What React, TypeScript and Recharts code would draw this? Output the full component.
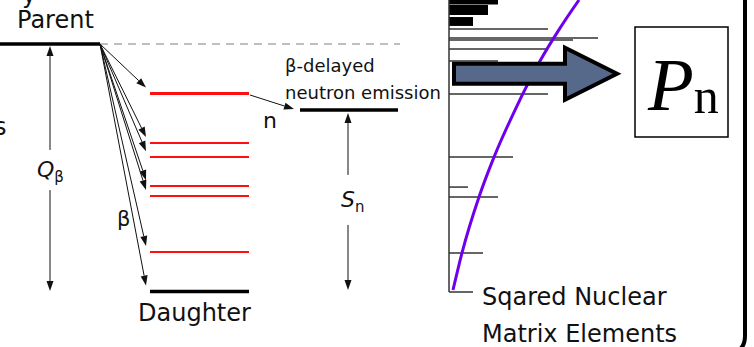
import React from "react";
import {
  ComposedChart,
  Line,
  ReferenceArea,
  ReferenceDot,
  ReferenceLine,
  XAxis,
  YAxis,
} from "recharts";

// energies in MeV above the daughter ground state
const parentLevel = 10;
const daughterStates = [8.0, 6.0, 5.43, 4.26, 3.86, 1.6];
const betaFeeds = [8.0, 6.0, 5.43, 4.26, 3.86, 1.6, 0];
const neutronLevel = 7.33; // Sn, final nucleus after neutron emission

// squared nuclear matrix elements (right panel)
const bandLow = [11.6, 11.17, 10.73];
const bandHigh = [11.778, 11.58, 11.09];
const bandStrength = [4.9, 3.9, 2.4];
const lineEnergy = [10.61, 10.24, 10.16, 9.8, 9.31, 7.98, 5.43, 4.22, 3.82, 1.56];
const lineStrength = [9.9, 14.9, 12.4, 9.9, 4.9, 9.9, 6.4, 1.9, 4.9, 3.4];

// purple curve
const curveStrength = [0.4, 1.3, 3.0, 4.5, 6.6, 9.1, 11.05, 13.0];
const curveEnergy = [0.06, 1.56, 3.82, 5.43, 7.33, 9.31, 10.61, 11.778];

const curveData = curveStrength.map((s, i) => ({ s, e: curveEnergy[i] }));

const W = 754;
const H = 347;
const SANS = "DejaVu Sans";
const SERIF = "Liberation Serif";

const head = (xf: number, yf: number, xt: number, yt: number, len = 10, half = 3.5) => {
  const d = Math.hypot(xt - xf, yt - yf);
  const ux = (xt - xf) / d;
  const uy = (yt - yf) / d;
  const bx = xt - ux * len;
  const by = yt - uy * len;
  return {
    base: [bx, by],
    pts: `${xt},${yt} ${bx - uy * half},${by + ux * half} ${bx + uy * half},${by - ux * half}`,
  };
};

// line with a filled head at its second point
const arrowShape = (color = "#111", width = 1.2) => (p: any) => {
  const { x1, y1, x2, y2 } = p;
  const h = head(x1, y1, x2, y2);
  return (
    <g>
      <line x1={x1} y1={y1} x2={h.base[0]} y2={h.base[1]} stroke={color} strokeWidth={width} />
      <polygon points={h.pts} fill={color} />
    </g>
  );
};

const label = (key: string, x: number, e: number, content: React.ReactNode, style: any = {}) => (
  <ReferenceDot
    key={key}
    xAxisId="lay"
    x={x}
    y={e}
    ifOverflow="visible"
    zIndex={1100}
    shape={(p: any) => (
      <text x={p.cx} y={p.cy} fontFamily={SANS} fontSize={24} fill="#111" {...style}>
        {content}
      </text>
    )}
  />
);

export default function App() {
  return (
    <div style={{ position: "fixed", left: 0, top: 0, width: W, height: H, background: "#fff" }}>
      <ComposedChart width={W} height={H} margin={{ top: 0, right: 0, bottom: 0, left: 0 }}>
        <XAxis xAxisId="lay" type="number" dataKey="x" domain={[0, W]} allowDataOverflow hide />
        <XAxis xAxisId="me" type="number" dataKey="s" domain={[-44.9, 30.5]} allowDataOverflow hide />
        <YAxis type="number" domain={[-2.242, 11.778]} allowDataOverflow hide />

        {/* Q-value reference (dashed) */}
        <ReferenceLine
          xAxisId="lay"
          segment={[{ x: 100, y: parentLevel }, { x: 400, y: parentLevel }]}
          stroke="#aaa"
          strokeWidth={1.5}
          strokeDasharray="8 6"
        />

        {/* parent */}
        <ReferenceLine
          xAxisId="lay"
          segment={[{ x: 0, y: parentLevel }, { x: 100, y: parentLevel }]}
          stroke="#000"
          strokeWidth={3.5}
        />

        {/* daughter excited states */}
        {daughterStates.map((e, i) => (
          <ReferenceLine
            key={`d${i}`}
            xAxisId="lay"
            segment={[{ x: 150, y: e }, { x: 249, y: e }]}
            stroke="#ff1010"
            strokeWidth={i === 0 ? 3 : 2}
          />
        ))}
        <ReferenceLine
          xAxisId="lay"
          segment={[{ x: 150, y: 0 }, { x: 249, y: 0 }]}
          stroke="#000"
          strokeWidth={3.5}
        />

        {/* beta feeding */}
        {betaFeeds.map((e, i) => (
          <ReferenceLine
            key={`b${i}`}
            xAxisId="lay"
            segment={[{ x: 100, y: parentLevel }, { x: 146, y: e + 0.24 }]}
            shape={arrowShape("#111", 1)}
          />
        ))}

        {/* Q beta arrow */}
        <ReferenceLine
          xAxisId="lay"
          segment={[{ x: 50, y: 5.72 }, { x: 50, y: parentLevel - 0.08 }]}
          shape={arrowShape("#111", 1)}
        />
        <ReferenceLine
          xAxisId="lay"
          segment={[{ x: 50, y: 4.1 }, { x: 50, y: 0.02 }]}
          shape={arrowShape("#111", 1)}
        />

        {/* neutron emission */}
        <ReferenceLine
          xAxisId="lay"
          segment={[{ x: 250, y: 7.94 }, { x: 294, y: 7.37 }]}
          shape={arrowShape("#111", 1)}
        />
        <ReferenceLine
          xAxisId="lay"
          segment={[{ x: 300, y: neutronLevel }, { x: 398, y: neutronLevel }]}
          stroke="#000"
          strokeWidth={3.5}
        />
        <ReferenceLine
          xAxisId="lay"
          segment={[{ x: 348, y: 4.71 }, { x: 348, y: neutronLevel - 0.12 }]}
          shape={arrowShape("#111", 1)}
        />
        <ReferenceLine
          xAxisId="lay"
          segment={[{ x: 348, y: 2.69 }, { x: 348, y: 0.06 }]}
          shape={arrowShape("#111", 1)}
        />

        {/* matrix element panel */}
        <ReferenceLine
          xAxisId="me"
          segment={[{ x: 0, y: 11.778 }, { x: 0, y: -0.02 }]}
          stroke="#333"
          strokeWidth={1.5}
        />
        <ReferenceLine
          xAxisId="me"
          segment={[{ x: 0, y: -0.02 }, { x: 2.4, y: -0.02 }]}
          stroke="#333"
          strokeWidth={1.5}
        />
        {bandStrength.map((s, i) => (
          <ReferenceArea
            key={`band${i}`}
            xAxisId="me"
            x1={0}
            x2={s}
            y1={bandLow[i]}
            y2={bandHigh[i]}
            ifOverflow="visible"
            fill="#000"
            fillOpacity={1}
            stroke="none"
          />
        ))}
        {lineStrength.map((s, i) => (
          <ReferenceLine
            key={`me${i}`}
            xAxisId="me"
            segment={[{ x: 0, y: lineEnergy[i] }, { x: s, y: lineEnergy[i] }]}
            stroke="#333"
            strokeWidth={1.5}
          />
        ))}
        <Line
          xAxisId="me"
          data={curveData}
          dataKey="e"
          type="monotone"
          stroke="#6f00ee"
          strokeWidth={3}
          dot={false}
          isAnimationActive={false}
        />

        {/* block arrow towards Pn */}
        <ReferenceDot
          xAxisId="lay"
          x={454}
          y={8.8}
          ifOverflow="visible"
          zIndex={1000}
          shape={(p: any) => {
            const x = p.cx;
            const y = p.cy;
            const d = `M${x},${y - 10} L${x + 111},${y - 10} L${x + 111},${y - 26} L${x + 163},${y} L${x + 111},${y + 26} L${x + 111},${y + 10} L${x},${y + 10} Z`;
            return <path d={d} fill="#56698a" stroke="#000" strokeWidth={4} strokeLinejoin="miter" />;
          }}
        />

        {/* Pn box */}
        <ReferenceArea
          xAxisId="lay"
          x1={635}
          x2={728}
          y1={6.24}
          y2={10.69}
          fill="#fff"
          fillOpacity={1}
          stroke="#000"
          strokeWidth={1.5}
          zIndex={1000}
        />

        {/* frame edge on the right */}
        <ReferenceLine
          xAxisId="lay"
          segment={[{ x: 745, y: 11.778 }, { x: 745, y: -1.8 }]}
          shape={(p: any) => (
            <path
              d={`M${p.x1},${p.y1} L${p.x2},${p.y2} Q${p.x2},${p.y2 + 9} ${p.x2 - 5},${p.y2 + 13}`}
              fill="none"
              stroke="#000"
              strokeWidth={4}
            />
          )}
        />

        {/* texts */}
        {label("cut-y", 22, 11.66, "y")}
        {label("cut-s", -6, 6.32, "s")}
        {label("parent", 17, 10.65, "Parent")}
        {label("daughter", 138, -1.19, "Daughter")}
        {label(
          "qb",
          37,
          4.63,
          <>
            <tspan fontStyle="italic">Q</tspan>
            <tspan fontSize={15} dy={5}>β</tspan>
          </>,
          { fontSize: 22 }
        )}
        {label("beta", 117, 2.65, "β", { fontSize: 21 })}
        {label("n", 263, 6.61, "n", { fontSize: 22 })}
        {label("bd1", 285, 8.87, "β-delayed", { fontSize: 18 })}
        {label("bd2", 285, 7.78, "neutron emission", { fontSize: 18 })}
        {label(
          "sn",
          341,
          3.41,
          <>
            <tspan fontStyle="italic">S</tspan>
            <tspan fontSize={15} dy={5}>n</tspan>
          </>,
          { fontSize: 22 }
        )}
        {label("me1", 482, -0.545, "Sqared Nuclear")}
        {label("me2", 482, -2.05, "Matrix Elements")}
        {label(
          "pn",
          648,
          7.35,
          <>
            <tspan fontStyle="italic">P</tspan>
            <tspan fontSize={50} dy={3}>n</tspan>
          </>,
          { fontFamily: SERIF, fontSize: 75, fill: "#000" }
        )}
      </ComposedChart>
    </div>
  );
}
